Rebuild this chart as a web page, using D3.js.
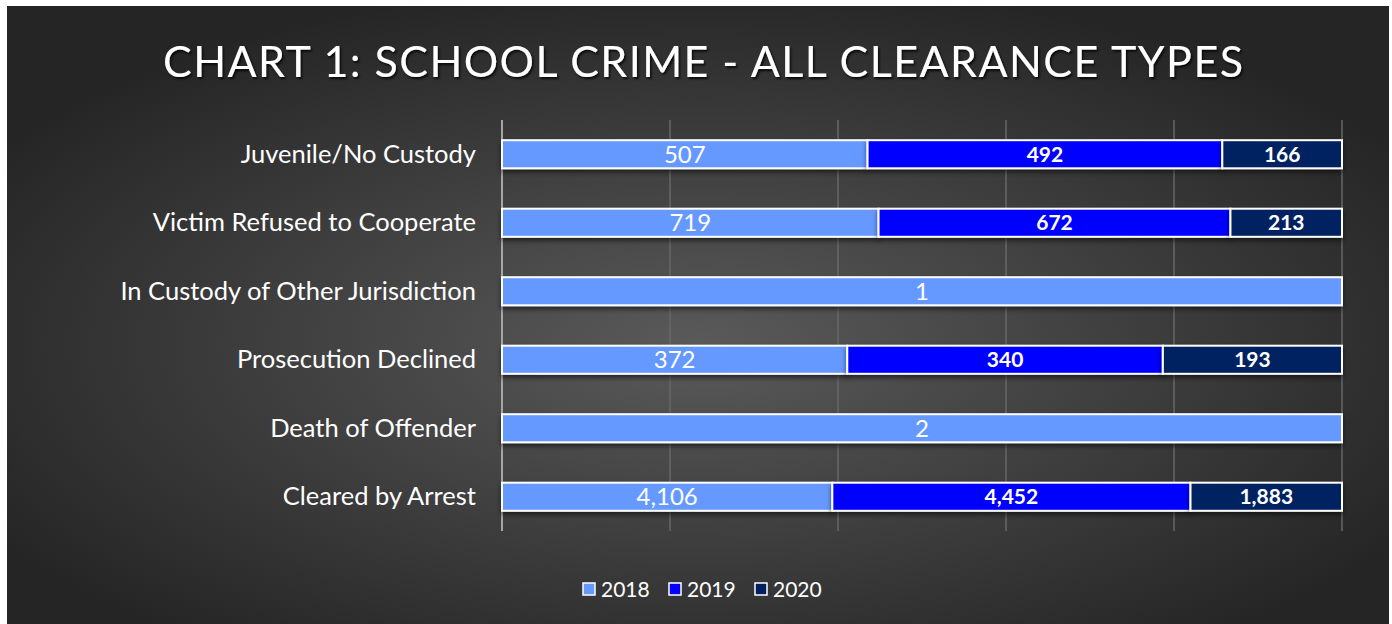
<!DOCTYPE html>
<meta charset="utf-8">
<style>
  body { margin: 0; background: #fff; }
  text { font-family: Lato, "Open Sans", sans-serif; }
</style>
<svg width="1392" height="624"></svg>
<script src="https://d3js.org/d3.v7.min.js"></script>
<script>
  var categories = ['Juvenile/No Custody', 'Victim Refused to Cooperate', 'In Custody of Other Jurisdiction',
    'Prosecution Declined', 'Death of Offender', 'Cleared by Arrest']
  var years = ['2018', '2019', '2020']
  var values2018 = [507, 719, 1, 372, 2, 4106]
  var values2019 = [492, 672, 0, 340, 0, 4452]
  var values2020 = [166, 213, 0, 193, 0, 1883]
  var colors = ['#6699ff', '#0000ff', '#002060']

  var svg = d3.select('svg')
  var defs = svg.append('defs')

  // dark radial background
  var grad = defs.append('radialGradient').attr('id', 'bg')
    .attr('cx', '50%').attr('cy', '55%').attr('r', '60%')
  grad.append('stop').attr('offset', '0%').attr('stop-color', '#5a5a5a')
  grad.append('stop').attr('offset', '100%').attr('stop-color', '#252525')

  var shadow = defs.append('filter').attr('id', 'shadow')
    .attr('x', '-5%').attr('y', '-20%').attr('width', '110%').attr('height', '160%')
  shadow.append('feDropShadow').attr('dx', 0).attr('dy', 3).attr('stdDeviation', 2.5)
    .attr('flood-color', '#000').attr('flood-opacity', 0.55)

  var tshadow = defs.append('filter').attr('id', 'tshadow')
  tshadow.append('feDropShadow').attr('dx', 1.5).attr('dy', 2).attr('stdDeviation', 1.2)
    .attr('flood-color', '#000').attr('flood-opacity', 0.8)

  svg.append('rect').attr('x', 7).attr('y', 6).attr('width', 1382).attr('height', 618)
    .attr('fill', 'url(#bg)')

  svg.append('text')
    .attr('x', 703).attr('y', 77)
    .attr('text-anchor', 'middle')
    .attr('font-size', 43)
    .attr('fill', '#fff')
    .attr('textLength', 1080).attr('lengthAdjust', 'spacing')
    .attr('filter', 'url(#tshadow)')
    .text('CHART 1: SCHOOL CRIME - ALL CLEARANCE TYPES')

  var x = d3.scaleLinear().domain([0, 1]).range([502, 1342])
  var y = d3.scaleBand().domain(categories).range([120, 531]).paddingInner(0.59).paddingOuter(0.295)

  // gridlines
  svg.append('g').selectAll('line')
    .data(x.ticks(5).slice(1))
    .enter().append('line')
    .attr('x1', d => x(d)).attr('x2', d => x(d))
    .attr('y1', 120).attr('y2', 531)
    .attr('stroke', '#676767').attr('stroke-width', 1.5)

  svg.append('line')
    .attr('x1', x(0)).attr('x2', x(0)).attr('y1', 120).attr('y2', 531)
    .attr('stroke', '#a6a6a6').attr('stroke-width', 2)

  // stack
  var rows = categories.map((c, i) => ({
    cat: c, '2018': values2018[i], '2019': values2019[i], '2020': values2020[i]
  }))
  var stack = d3.stack().keys(years).offset(d3.stackOffsetExpand)
  var series = stack(rows)

  var groups = svg.append('g').selectAll('g')
    .data(series)
    .enter().append('g')

  groups.selectAll('rect')
    .data(s => s.map(d => Object.assign({ key: s.key }, d)).filter(d => d[1] - d[0] > 0))
    .enter().append('rect')
    .attr('x', d => x(d[0]))
    .attr('y', d => y(d.data.cat))
    .attr('width', d => x(d[1]) - x(d[0]))
    .attr('height', y.bandwidth())
    .attr('fill', d => colors[years.indexOf(d.key)])
    .attr('stroke', '#fff').attr('stroke-width', 2)
    .attr('filter', 'url(#shadow)')

  var fmt = d3.format(',')
  groups.selectAll('text')
    .data(s => s.map(d => Object.assign({ key: s.key }, d)).filter(d => d[1] - d[0] > 0))
    .enter().append('text')
    .attr('x', d => (x(d[0]) + x(d[1])) / 2)
    .attr('y', d => y(d.data.cat) + y.bandwidth() / 2)
    .attr('dy', '0.36em')
    .attr('text-anchor', 'middle')
    .attr('fill', '#fff')
    .attr('font-size', d => d.key === '2018' ? 24 : 21)
    .attr('font-weight', d => d.key === '2018' ? 'normal' : 'bold')
    .text(d => fmt(d.data[d.key]))

  // category labels
  svg.append('g').selectAll('text')
    .data(categories)
    .enter().append('text')
    .attr('x', 476)
    .attr('y', d => y(d) + y.bandwidth() / 2)
    .attr('dy', '0.33em')
    .attr('text-anchor', 'end')
    .attr('font-size', 25.5)
    .attr('fill', '#fff')
    .text(d => d)

  // legend
  var legend = svg.append('g')
  var lx = [582, 668, 754]
  years.forEach((yr, i) => {
    legend.append('rect')
      .attr('x', lx[i] + 1).attr('y', 583).attr('width', 12).attr('height', 12)
      .attr('fill', colors[i]).attr('stroke', '#fff').attr('stroke-width', 1.5)
    legend.append('text')
      .attr('x', lx[i] + 19).attr('y', 589).attr('dy', '0.36em')
      .attr('font-size', 21).attr('fill', '#fff')
      .text(yr)
  })
</script>
